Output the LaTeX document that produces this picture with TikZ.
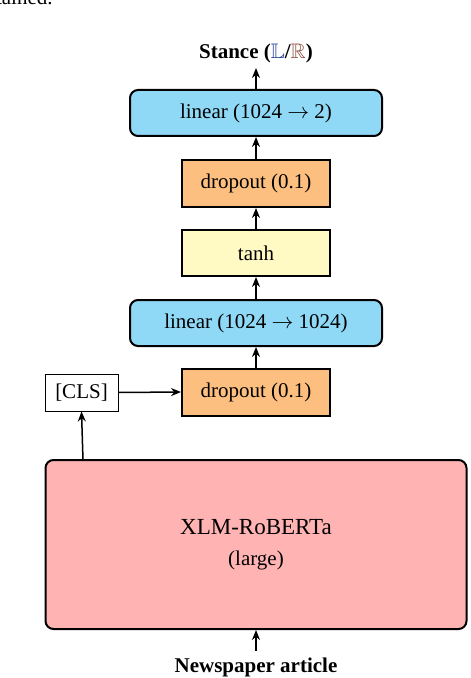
\documentclass[tikz,border=0pt]{standalone}
\usepackage{amssymb}
\usepackage{fontspec}
\setmainfont{Liberation Serif}
\usetikzlibrary{arrows.meta,positioning}
\definecolor{linblue}{HTML}{8FD9F7}
\definecolor{droporange}{HTML}{FDBF80}
\definecolor{tanhyellow}{HTML}{FFF9C4}
\definecolor{xlmpink}{HTML}{FFB3B3}
\definecolor{stL}{HTML}{1F3A93}
\definecolor{stR}{HTML}{8B4A3A}
\tikzset{
  basefont/.style={font=\fontsize{10.5}{12.6}\selectfont},
  layerbox/.style={basefont, draw=black, line width=1pt, inner sep=0pt, align=center},
  linbox/.style={layerbox, fill=linblue, rounded corners=4pt, minimum width=126pt, minimum height=23pt},
  dropbox/.style={layerbox, fill=droporange, minimum width=74pt, minimum height=23.5pt},
  tanhbox/.style={layerbox, fill=tanhyellow, minimum width=74pt, minimum height=23pt},
  clsbox/.style={basefont, draw=black, line width=0.5pt, fill=white, inner sep=0pt, minimum width=36.5pt, minimum height=18.5pt},
  xlmbox/.style={layerbox, fill=xlmpink, rounded corners=4pt, minimum width=210.5pt, minimum height=84.5pt},
  labeltext/.style={basefont, inner sep=0pt},
  conn/.style={line width=0.75pt, -{Stealth[length=5pt,width=4pt]}}
}
\begin{document}
\begin{tikzpicture}[x=0.5pt,y=-0.5pt]
\useasboundingbox (0,0) rectangle (470,678);
% cropped page text
\node[basefont, anchor=base east, inner sep=0pt] (pagetext) at (53,5) {obtained.};
% layers
\node[linbox] (lin2) at (256,113) {linear (1024 $\to$ 2)};
\node[dropbox] (drop2) at (256,183.5) {dropout (0.1)};
\node[tanhbox] (tanh) at (256,253) {tanh};
\node[linbox] (lin1) at (256,323) {linear (1024 $\to$ 1024)};
\node[dropbox] (drop1) at (256,392) {dropout (0.1)};
\node[clsbox] (cls) at (81.5,392.5) {[CLS]};
\node[xlmbox] (xlm) at (256,544.5) {{\fontsize{11.5}{14}\selectfont XLM-RoBERTa}\\[3pt](large)};
\node[labeltext, font=\fontsize{10.5}{12.6}\selectfont\bfseries] (stance) at (256,53) {Stance ({\color{stL}$\mathbb{L}$}/{\color{stR}$\mathbb{R}$})};
\node[labeltext, font=\fontsize{10.5}{12.6}\selectfont\bfseries] (news) at (256,667) {Newspaper article};
\coordinate (stancetip) at (256,68);
\coordinate (newsfoot) at (256,651);
\coordinate (xlmcls) at (83,460);
% connectors
\draw[conn] (lin2.north) -- (stancetip);
\draw[conn] (drop2.north) -- (lin2.south);
\draw[conn] (tanh.north) -- (drop2.south);
\draw[conn] (lin1.north) -- (tanh.south);
\draw[conn] (drop1.north) -- (lin1.south);
\draw[conn] (cls.east) -- (drop1.west);
\draw[conn] (xlmcls) -- (cls.south);
\draw[conn] (newsfoot) -- (xlm.south);
\end{tikzpicture}
\end{document}
